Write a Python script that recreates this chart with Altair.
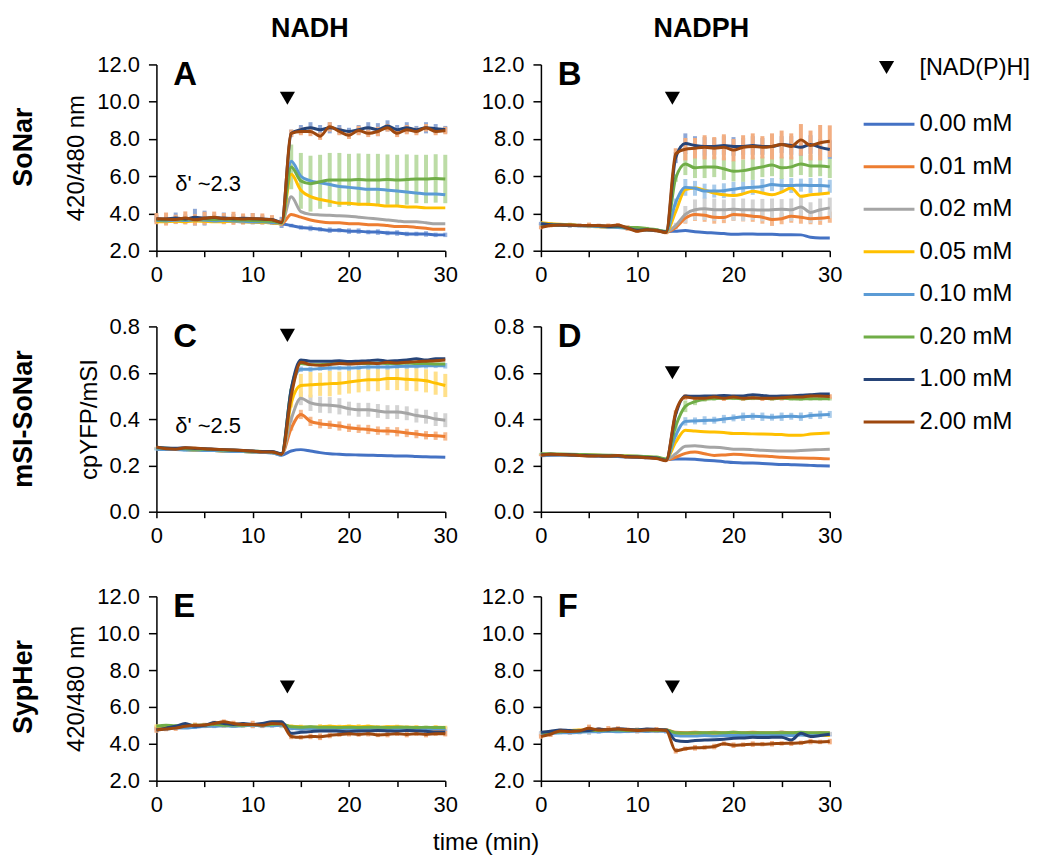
import altair as alt
import pandas as pd

FONT = "Liberation Sans"

# ---------------- data ----------------
T = list(range(31))  # minutes
SERIES = ["0.00 mM", "0.01 mM", "0.02 mM", "0.05 mM", "0.10 mM", "0.20 mM", "1.00 mM", "2.00 mM"]
LINE_COLORS = ["#4472C4", "#ED7D31", "#A5A5A5", "#FFC000", "#5B9BD5", "#70AD47", "#264478", "#9E480E"]
ERR_COLORS = ["#9DB5E0", "#F6B98E", "#D3D3D3", "#FFE08A", "#A9CBEA", "#BCDCA6", "#8FA8D6", "#F2AE82"]
X_TICKS = [0, 5, 10, 15, 20, 25, 30]
Y_TICKS_RATIO = [2, 4, 6, 8, 10, 12]
Y_TICKS_MSI = [0.0, 0.2, 0.4, 0.6, 0.8]

# Panel A: SoNar, NADH
A_VALS = {
    "0.00 mM": [3.65, 3.62, 3.64, 3.62, 3.66, 3.62, 3.6, 3.6, 3.58, 3.56, 3.55, 3.52, 3.5, 3.45,
                3.35, 3.25, 3.2, 3.15, 3.1, 3.1, 3.05, 3.05, 3.0, 3.0, 2.95, 2.95, 2.9, 2.9, 2.9, 2.85, 2.85],
    "0.01 mM": [3.6, 3.62, 3.66, 3.6, 3.62, 3.66, 3.62, 3.6, 3.62, 3.58, 3.58, 3.55, 3.52, 3.45,
                3.95, 3.8, 3.65, 3.55, 3.5, 3.5, 3.45, 3.45, 3.4, 3.4, 3.35, 3.3, 3.3, 3.25, 3.2, 3.15, 3.15],
    "0.02 mM": [3.62, 3.64, 3.6, 3.66, 3.64, 3.6, 3.64, 3.62, 3.6, 3.6, 3.58, 3.56, 3.55, 3.48,
                4.9, 4.1, 3.95, 3.92, 3.9, 3.88, 3.85, 3.8, 3.75, 3.7, 3.65, 3.6, 3.55, 3.55, 3.5, 3.45, 3.45],
    "0.05 mM": [3.55, 3.56, 3.58, 3.55, 3.6, 3.58, 3.55, 3.56, 3.58, 3.55, 3.54, 3.52, 3.5, 3.45,
                6.1, 5.25, 4.9, 4.75, 4.65, 4.55, 4.55, 4.5, 4.5, 4.45, 4.4, 4.4, 4.35, 4.35, 4.3, 4.3, 4.3],
    "0.10 mM": [3.62, 3.6, 3.64, 3.62, 3.66, 3.64, 3.6, 3.62, 3.6, 3.58, 3.56, 3.55, 3.52, 3.48,
                6.8, 6.0, 5.75, 5.65, 5.55, 5.45, 5.4, 5.35, 5.3, 5.3, 5.25, 5.2, 5.15, 5.1, 5.05, 5.05, 5.0],
    "0.20 mM": [3.66, 3.65, 3.7, 3.68, 3.72, 3.7, 3.68, 3.7, 3.66, 3.65, 3.62, 3.6, 3.58, 3.5,
                6.5, 5.75, 5.6, 5.7, 5.8, 5.8, 5.8, 5.82, 5.8, 5.8, 5.82, 5.8, 5.82, 5.85, 5.85, 5.88, 5.85],
    "1.00 mM": [3.72, 3.7, 3.75, 3.7, 3.8, 3.75, 3.78, 3.75, 3.72, 3.74, 3.72, 3.7, 3.68, 3.52,
                8.3, 8.5, 8.6, 8.5, 8.6, 8.5, 8.4, 8.5, 8.6, 8.5, 8.7, 8.5, 8.6, 8.5, 8.6, 8.55, 8.5],
    "2.00 mM": [3.72, 3.7, 3.68, 3.76, 3.66, 3.74, 3.8, 3.72, 3.74, 3.7, 3.72, 3.7, 3.66, 3.52,
                8.3, 8.4, 8.4, 8.15, 8.65, 8.4, 8.2, 8.45, 8.3, 8.4, 8.6, 8.3, 8.5, 8.4, 8.6, 8.4, 8.45],
}
A_ERR = {
    "0.00 mM": [0.1, 0.1, 0.12, 0.1, 0.15, 0.12, 0.1, 0.1, 0.1, 0.12, 0.1, 0.1, 0.1, 0.1,
                0.1, 0.12, 0.15, 0.12, 0.15, 0.12, 0.15, 0.15, 0.12, 0.15, 0.12, 0.15, 0.12, 0.12, 0.15, 0.12, 0.12],
    "0.20 mM": [0.1, 0.1, 0.12, 0.1, 0.1, 0.12, 0.1, 0.1, 0.12, 0.1, 0.1, 0.1, 0.1, 0.1,
                1.2, 1.5, 1.5, 1.45, 1.45, 1.45, 1.4, 1.4, 1.4, 1.4, 1.35, 1.35, 1.35, 1.3, 1.3, 1.3, 1.3],
    "1.00 mM": [0.2, 0.2, 0.3, 0.25, 0.45, 0.4, 0.2, 0.3, 0.25, 0.2, 0.3, 0.2, 0.2, 0.3,
                0.2, 0.25, 0.3, 0.25, 0.3, 0.25, 0.2, 0.25, 0.3, 0.35, 0.3, 0.25, 0.3, 0.2, 0.3, 0.25, 0.2],
    "2.00 mM": [0.3, 0.35, 0.25, 0.35, 0.3, 0.35, 0.3, 0.3, 0.35, 0.3, 0.3, 0.3, 0.25, 0.2,
                0.2, 0.2, 0.25, 0.2, 0.25, 0.2, 0.2, 0.25, 0.2, 0.25, 0.2, 0.2, 0.25, 0.2, 0.2, 0.2, 0.2],
}

# Panel B: SoNar, NADPH
B_VALS = {
    "0.00 mM": [3.45, 3.42, 3.4, 3.38, 3.36, 3.35, 3.33, 3.3, 3.28, 3.22, 3.15, 3.15, 3.1, 3.02,
                3.05, 3.08, 3.02, 2.98, 2.95, 2.92, 2.88, 2.9, 2.9, 2.88, 2.88, 2.86, 2.86, 2.85, 2.72, 2.68, 2.68],
    "0.01 mM": [3.42, 3.4, 3.38, 3.36, 3.35, 3.32, 3.3, 3.28, 3.28, 3.2, 3.12, 3.14, 3.08, 3.0,
                3.25, 3.75, 3.95, 3.9, 3.8, 3.78, 3.95, 3.92, 3.85, 3.8, 3.68, 3.72, 3.85, 3.8, 3.72, 3.74, 3.8],
    "0.02 mM": [3.4, 3.38, 3.36, 3.38, 3.35, 3.34, 3.3, 3.3, 3.3, 3.22, 3.14, 3.12, 3.1, 3.02,
                3.35, 3.95, 4.2, 4.25, 4.2, 4.2, 4.22, 4.2, 4.2, 4.18, 4.2, 4.22, 4.2, 4.35, 4.05, 4.2, 4.3],
    "0.05 mM": [3.5, 3.45, 3.42, 3.4, 3.36, 3.32, 3.28, 3.26, 3.26, 3.2, 3.15, 3.12, 3.08, 3.0,
                4.1, 5.28, 5.37, 5.25, 5.1, 5.0, 4.97, 5.05, 5.19, 5.1, 5.0, 5.15, 5.37, 4.92, 5.0, 5.05, 5.1],
    "0.10 mM": [3.44, 3.4, 3.4, 3.36, 3.34, 3.32, 3.3, 3.26, 3.25, 3.2, 3.14, 3.12, 3.1, 3.02,
                4.6, 5.4, 5.35, 5.2, 5.2, 5.22, 5.3, 5.37, 5.4, 5.45, 5.55, 5.5, 5.5, 5.52, 5.5, 5.5, 5.46],
    "0.20 mM": [3.42, 3.4, 3.38, 3.38, 3.36, 3.35, 3.34, 3.3, 3.3, 3.25, 3.25, 3.2, 3.12, 3.04,
                5.9, 6.66, 6.45, 6.5, 6.5, 6.4, 6.27, 6.3, 6.4, 6.5, 6.6, 6.45, 6.5, 6.66, 6.55, 6.55, 6.5],
    "1.00 mM": [3.45, 3.4, 3.38, 3.36, 3.36, 3.35, 3.34, 3.3, 3.32, 3.22, 3.1, 3.12, 3.08, 3.0,
                7.0, 7.75, 7.65, 7.6, 7.6, 7.65, 7.6, 7.6, 7.65, 7.6, 7.6, 7.7, 7.65, 7.55, 7.7, 7.55, 7.43],
    "2.00 mM": [3.25, 3.35, 3.38, 3.38, 3.36, 3.36, 3.35, 3.34, 3.38, 3.22, 3.05, 3.12, 3.08, 2.98,
                7.2, 7.45, 7.5, 7.55, 7.5, 7.55, 7.4, 7.55, 7.6, 7.55, 7.6, 7.7, 7.6, 7.95, 7.65, 7.8, 7.88],
}
B_ERR = {
    "0.01 mM": [0.05, 0.05, 0.06, 0.05, 0.05, 0.06, 0.05, 0.05, 0.06, 0.05, 0.05, 0.05, 0.05, 0.05,
                0.1, 0.3, 0.35, 0.35, 0.35, 0.3, 0.35, 0.35, 0.3, 0.35, 0.35, 0.3, 0.35, 0.35, 0.3, 0.35, 0.3],
    "0.02 mM": [0.05, 0.05, 0.05, 0.05, 0.06, 0.05, 0.05, 0.05, 0.05, 0.06, 0.05, 0.05, 0.05, 0.05,
                0.15, 0.45, 0.55, 0.6, 0.6, 0.55, 0.6, 0.6, 0.55, 0.6, 0.6, 0.55, 0.6, 0.6, 0.55, 0.6, 0.55],
    "0.10 mM": [0.08, 0.1, 0.08, 0.1, 0.08, 0.1, 0.08, 0.1, 0.08, 0.1, 0.08, 0.1, 0.08, 0.08,
                0.2, 0.45, 0.4, 0.4, 0.35, 0.4, 0.4, 0.35, 0.4, 0.4, 0.35, 0.4, 0.4, 0.35, 0.4, 0.4, 0.35],
    "0.20 mM": [0.05, 0.08, 0.05, 0.08, 0.05, 0.08, 0.05, 0.08, 0.05, 0.08, 0.05, 0.08, 0.05, 0.05,
                0.2, 0.6, 0.55, 0.6, 0.55, 0.6, 0.55, 0.6, 0.6, 0.55, 0.6, 0.6, 0.55, 0.6, 0.6, 0.55, 0.6],
    "1.00 mM": [0.1, 0.12, 0.1, 0.12, 0.1, 0.12, 0.1, 0.1, 0.12, 0.1, 0.12, 0.1, 0.1, 0.1,
                0.3, 0.55, 0.5, 0.5, 0.45, 0.5, 0.5, 0.45, 0.5, 0.45, 0.5, 0.45, 0.5, 0.45, 0.5, 0.45, 0.5],
    "2.00 mM": [0.1, 0.1, 0.1, 0.12, 0.1, 0.15, 0.1, 0.12, 0.1, 0.15, 0.1, 0.1, 0.1, 0.1,
                0.3, 0.6, 0.55, 0.65, 0.6, 0.7, 0.6, 0.65, 0.7, 0.6, 0.7, 0.75, 0.7, 0.85, 0.8, 0.95, 0.85],
}

# Panel C: mSI-SoNar, NADH
C_VALS = {
    "0.00 mM": [0.27, 0.268, 0.27, 0.268, 0.266, 0.265, 0.264, 0.262, 0.262, 0.26, 0.258, 0.256, 0.255, 0.245,
                0.262, 0.268, 0.262, 0.255, 0.25, 0.248, 0.246, 0.245, 0.244, 0.243, 0.242, 0.24, 0.24, 0.238, 0.237, 0.236, 0.235],
    "0.01 mM": [0.272, 0.27, 0.27, 0.27, 0.268, 0.266, 0.265, 0.264, 0.262, 0.26, 0.26, 0.258, 0.256, 0.248,
                0.36, 0.42, 0.39, 0.38, 0.375, 0.37, 0.362, 0.358, 0.355, 0.35, 0.348, 0.345, 0.34, 0.335, 0.33, 0.328, 0.325],
    "0.02 mM": [0.275, 0.272, 0.272, 0.27, 0.27, 0.268, 0.266, 0.265, 0.264, 0.262, 0.26, 0.258, 0.256, 0.25,
                0.4, 0.49, 0.47, 0.462, 0.46, 0.455, 0.445, 0.44, 0.44, 0.435, 0.43, 0.43, 0.425, 0.415, 0.41, 0.4, 0.395],
    "0.05 mM": [0.272, 0.27, 0.268, 0.268, 0.265, 0.266, 0.264, 0.262, 0.262, 0.26, 0.258, 0.257, 0.255, 0.248,
                0.47, 0.545, 0.548, 0.55, 0.553, 0.555, 0.56, 0.565, 0.57, 0.57, 0.575, 0.575, 0.572, 0.57, 0.565, 0.555, 0.545],
    "0.10 mM": [0.27, 0.268, 0.268, 0.266, 0.266, 0.264, 0.264, 0.262, 0.26, 0.26, 0.258, 0.256, 0.254, 0.244,
                0.52, 0.615, 0.615, 0.618, 0.62, 0.62, 0.62, 0.622, 0.625, 0.625, 0.625, 0.627, 0.628, 0.628, 0.63, 0.63, 0.63],
    "0.20 mM": [0.276, 0.274, 0.273, 0.272, 0.27, 0.27, 0.268, 0.266, 0.265, 0.263, 0.261, 0.26, 0.258, 0.25,
                0.53, 0.64, 0.635, 0.635, 0.638, 0.64, 0.64, 0.64, 0.64, 0.642, 0.64, 0.64, 0.642, 0.64, 0.64, 0.638, 0.638],
    "1.00 mM": [0.278, 0.275, 0.274, 0.276, 0.273, 0.272, 0.27, 0.268, 0.266, 0.264, 0.262, 0.26, 0.26, 0.25,
                0.53, 0.655, 0.65, 0.65, 0.65, 0.652, 0.648, 0.65, 0.652, 0.655, 0.65, 0.652, 0.655, 0.66, 0.655, 0.66, 0.66],
    "2.00 mM": [0.28, 0.272, 0.27, 0.276, 0.275, 0.272, 0.27, 0.268, 0.266, 0.264, 0.262, 0.258, 0.258, 0.247,
                0.5, 0.645, 0.635, 0.632, 0.635, 0.64, 0.638, 0.64, 0.642, 0.64, 0.645, 0.642, 0.645, 0.648, 0.65, 0.652, 0.655],
}
C_ERR = {
    "0.01 mM": [0.005, 0.005, 0.005, 0.005, 0.005, 0.005, 0.005, 0.005, 0.005, 0.005, 0.005, 0.005, 0.005, 0.005,
                0.01, 0.02, 0.02, 0.02, 0.018, 0.02, 0.018, 0.018, 0.02, 0.018, 0.018, 0.02, 0.018, 0.018, 0.018, 0.018, 0.018],
    "0.02 mM": [0.005, 0.005, 0.005, 0.005, 0.005, 0.005, 0.005, 0.005, 0.005, 0.005, 0.005, 0.005, 0.005, 0.005,
                0.015, 0.03, 0.035, 0.035, 0.035, 0.035, 0.03, 0.03, 0.03, 0.03, 0.03, 0.03, 0.03, 0.03, 0.03, 0.03, 0.03],
    "0.05 mM": [0.005, 0.005, 0.006, 0.005, 0.005, 0.006, 0.005, 0.005, 0.006, 0.005, 0.005, 0.005, 0.005, 0.005,
                0.02, 0.05, 0.055, 0.05, 0.055, 0.05, 0.05, 0.05, 0.05, 0.05, 0.05, 0.05, 0.05, 0.05, 0.05, 0.05, 0.05],
    "0.10 mM": [0.006, 0.006, 0.006, 0.006, 0.006, 0.006, 0.006, 0.006, 0.006, 0.006, 0.006, 0.006, 0.006, 0.006,
                0.01, 0.012, 0.012, 0.01, 0.012, 0.01, 0.012, 0.01, 0.012, 0.01, 0.012, 0.01, 0.012, 0.01, 0.012, 0.01, 0.012],
}

# Panel D: mSI-SoNar, NADPH
D_VALS = {
    "0.00 mM": [0.242, 0.244, 0.245, 0.244, 0.243, 0.242, 0.24, 0.24, 0.238, 0.236, 0.235, 0.233, 0.232, 0.225,
                0.228, 0.228, 0.226, 0.222, 0.22, 0.216, 0.212, 0.21, 0.21, 0.208, 0.206, 0.204, 0.203, 0.202, 0.2, 0.198, 0.197],
    "0.01 mM": [0.245, 0.246, 0.246, 0.245, 0.244, 0.243, 0.242, 0.241, 0.24, 0.238, 0.236, 0.234, 0.232, 0.224,
                0.235, 0.252, 0.258, 0.25, 0.243, 0.245, 0.248, 0.246, 0.243, 0.24, 0.238, 0.235, 0.233, 0.232, 0.231, 0.23, 0.228],
    "0.02 mM": [0.246, 0.247, 0.246, 0.246, 0.245, 0.244, 0.243, 0.242, 0.241, 0.239, 0.237, 0.235, 0.233, 0.225,
                0.25, 0.283, 0.285, 0.28, 0.278, 0.275, 0.27, 0.27, 0.268, 0.265, 0.263, 0.262, 0.262, 0.264, 0.266, 0.268, 0.27],
    "0.05 mM": [0.247, 0.248, 0.247, 0.246, 0.245, 0.245, 0.244, 0.242, 0.242, 0.24, 0.238, 0.236, 0.234, 0.226,
                0.3, 0.352, 0.348, 0.345, 0.344, 0.342, 0.338, 0.338, 0.336, 0.335, 0.334, 0.333, 0.33, 0.33, 0.335, 0.338, 0.34],
    "0.10 mM": [0.244, 0.245, 0.245, 0.244, 0.244, 0.243, 0.242, 0.241, 0.24, 0.238, 0.236, 0.234, 0.232, 0.224,
                0.33, 0.39, 0.392, 0.394, 0.395, 0.4, 0.405, 0.41, 0.412, 0.41, 0.408, 0.41, 0.412, 0.41, 0.415, 0.418, 0.42],
    "0.20 mM": [0.25, 0.25, 0.249, 0.248, 0.247, 0.246, 0.245, 0.244, 0.243, 0.241, 0.24, 0.238, 0.236, 0.227,
                0.37, 0.455, 0.475, 0.485, 0.488, 0.49, 0.49, 0.488, 0.49, 0.49, 0.488, 0.49, 0.488, 0.487, 0.488, 0.488, 0.488],
    "1.00 mM": [0.246, 0.248, 0.247, 0.246, 0.243, 0.242, 0.241, 0.24, 0.24, 0.238, 0.236, 0.234, 0.232, 0.222,
                0.42, 0.5, 0.498, 0.5, 0.5, 0.502, 0.5, 0.5, 0.505, 0.502, 0.498, 0.5, 0.5, 0.503, 0.505, 0.508, 0.508],
    "2.00 mM": [0.244, 0.248, 0.247, 0.245, 0.243, 0.24, 0.241, 0.24, 0.243, 0.236, 0.236, 0.233, 0.23, 0.22,
                0.43, 0.495, 0.49, 0.49, 0.495, 0.49, 0.495, 0.49, 0.492, 0.49, 0.49, 0.492, 0.495, 0.495, 0.5, 0.5, 0.497],
}
D_ERR = {
    "0.10 mM": [0.004, 0.004, 0.004, 0.004, 0.004, 0.004, 0.004, 0.004, 0.004, 0.004, 0.004, 0.004, 0.004, 0.004,
                0.01, 0.018, 0.015, 0.018, 0.015, 0.018, 0.015, 0.018, 0.015, 0.018, 0.015, 0.018, 0.015, 0.018, 0.015, 0.018, 0.015],
    "0.20 mM": [0.004, 0.004, 0.004, 0.004, 0.004, 0.004, 0.004, 0.004, 0.004, 0.004, 0.004, 0.004, 0.004, 0.004,
                0.02, 0.025, 0.015, 0.01, 0.008, 0.008, 0.008, 0.008, 0.008, 0.008, 0.008, 0.008, 0.008, 0.008, 0.008, 0.008, 0.008],
    "2.00 mM": [0.004, 0.004, 0.004, 0.004, 0.004, 0.004, 0.004, 0.004, 0.004, 0.004, 0.004, 0.004, 0.004, 0.004,
                0.008, 0.012, 0.01, 0.012, 0.01, 0.012, 0.01, 0.012, 0.01, 0.012, 0.01, 0.012, 0.01, 0.012, 0.01, 0.012, 0.01],
}

# Panel E: SypHer, NADH
E_VALS = {
    "0.00 mM": [4.85, 4.88, 4.9, 4.95, 4.92, 4.95, 5.0, 5.0, 4.98, 5.0, 5.0, 4.98, 5.0, 5.05,
                4.85, 4.82, 4.85, 4.85, 4.82, 4.8, 4.8, 4.82, 4.8, 4.82, 4.85, 4.85, 4.82, 4.8, 4.8, 4.78, 4.8],
    "0.01 mM": [4.8, 4.85, 4.9, 4.9, 4.95, 4.95, 5.0, 4.98, 5.0, 5.0, 5.02, 5.0, 5.0, 5.05,
                4.9, 4.85, 4.85, 4.82, 4.85, 4.8, 4.8, 4.8, 4.82, 4.8, 4.8, 4.78, 4.8, 4.8, 4.75, 4.78, 4.75],
    "0.02 mM": [4.9, 4.9, 4.95, 4.92, 4.95, 5.0, 4.98, 5.0, 5.0, 4.98, 5.0, 5.0, 5.02, 5.0,
                4.9, 4.88, 4.9, 4.88, 4.9, 4.88, 4.9, 4.88, 4.9, 4.88, 4.9, 4.9, 4.88, 4.86, 4.88, 4.86, 4.85],
    "0.05 mM": [4.95, 4.95, 4.9, 4.95, 5.0, 4.98, 5.0, 5.02, 4.98, 5.0, 5.0, 5.02, 5.0, 5.0,
                4.95, 4.92, 4.9, 4.92, 4.95, 4.92, 4.95, 4.92, 4.95, 4.9, 4.92, 4.92, 4.9, 4.9, 4.88, 4.9, 4.88],
    "0.10 mM": [4.75, 4.8, 4.85, 4.85, 4.9, 4.95, 4.95, 4.98, 4.95, 4.98, 5.0, 4.98, 4.98, 5.0,
                4.85, 4.8, 4.82, 4.8, 4.82, 4.8, 4.82, 4.8, 4.82, 4.8, 4.8, 4.82, 4.8, 4.8, 4.78, 4.8, 4.8],
    "0.20 mM": [4.95, 5.0, 4.98, 5.0, 5.0, 5.02, 5.05, 5.0, 5.02, 5.0, 5.05, 5.02, 5.05, 5.08,
                4.92, 4.9, 4.92, 4.9, 4.9, 4.88, 4.9, 4.88, 4.9, 4.9, 4.88, 4.9, 4.9, 4.88, 4.9, 4.88, 4.88],
    "1.00 mM": [4.75, 4.85, 4.95, 5.1, 4.95, 5.0, 5.15, 5.1, 5.05, 5.1, 5.05, 5.1, 5.2, 5.2,
                4.57, 4.62, 4.66, 4.7, 4.7, 4.68, 4.66, 4.7, 4.7, 4.72, 4.7, 4.68, 4.72, 4.7, 4.68, 4.62, 4.62],
    "2.00 mM": [4.75, 4.8, 4.85, 4.95, 5.0, 5.02, 5.1, 5.2, 5.1, 5.05, 5.05, 5.0, 5.1, 5.08,
                4.4, 4.35, 4.4, 4.38, 4.45, 4.5, 4.55, 4.5, 4.55, 4.48, 4.5, 4.55, 4.5, 4.55, 4.5, 4.55, 4.55],
}
E_ERR = {
    "0.00 mM": [0.12, 0.15, 0.1, 0.15, 0.12, 0.1, 0.15, 0.12, 0.1, 0.12, 0.15, 0.1, 0.12, 0.2,
                0.12, 0.1, 0.12, 0.1, 0.12, 0.1, 0.12, 0.1, 0.12, 0.1, 0.12, 0.1, 0.12, 0.1, 0.12, 0.1, 0.12],
    "0.05 mM": [0.1, 0.12, 0.1, 0.12, 0.1, 0.12, 0.1, 0.12, 0.1, 0.12, 0.1, 0.12, 0.1, 0.12,
                0.1, 0.12, 0.1, 0.15, 0.1, 0.12, 0.1, 0.15, 0.1, 0.12, 0.1, 0.12, 0.1, 0.12, 0.1, 0.12, 0.1],
    "2.00 mM": [0.15, 0.12, 0.15, 0.12, 0.15, 0.12, 0.15, 0.12, 0.15, 0.12, 0.2, 0.15, 0.12, 0.15,
                0.15, 0.12, 0.15, 0.18, 0.15, 0.12, 0.15, 0.12, 0.15, 0.12, 0.15, 0.12, 0.15, 0.12, 0.15, 0.12, 0.15],
}

# Panel F: SypHer, NADPH
F_VALS = {
    "0.00 mM": [4.55, 4.6, 4.62, 4.65, 4.68, 4.7, 4.7, 4.72, 4.72, 4.7, 4.72, 4.7, 4.72, 4.7,
                4.5, 4.48, 4.5, 4.5, 4.52, 4.5, 4.5, 4.52, 4.5, 4.5, 4.52, 4.5, 4.5, 4.52, 4.5, 4.5, 4.52],
    "0.01 mM": [4.6, 4.62, 4.65, 4.68, 4.7, 4.72, 4.72, 4.75, 4.72, 4.75, 4.72, 4.75, 4.72, 4.75,
                4.62, 4.6, 4.62, 4.6, 4.62, 4.6, 4.62, 4.6, 4.62, 4.6, 4.6, 4.62, 4.6, 4.6, 4.58, 4.6, 4.58],
    "0.02 mM": [4.55, 4.6, 4.62, 4.62, 4.65, 4.68, 4.7, 4.7, 4.72, 4.7, 4.7, 4.72, 4.7, 4.72,
                4.58, 4.55, 4.55, 4.55, 4.58, 4.55, 4.55, 4.55, 4.55, 4.55, 4.55, 4.58, 4.55, 4.55, 4.55, 4.55, 4.55],
    "0.05 mM": [4.6, 4.65, 4.7, 4.72, 4.75, 4.72, 4.75, 4.72, 4.75, 4.72, 4.75, 4.72, 4.72, 4.72,
                4.55, 4.5, 4.5, 4.52, 4.5, 4.5, 4.52, 4.5, 4.5, 4.48, 4.5, 4.5, 4.48, 4.5, 4.45, 4.45, 4.45],
    "0.10 mM": [4.5, 4.55, 4.6, 4.6, 4.62, 4.65, 4.65, 4.68, 4.65, 4.68, 4.7, 4.68, 4.7, 4.68,
                4.45, 4.42, 4.42, 4.45, 4.42, 4.45, 4.45, 4.45, 4.48, 4.45, 4.45, 4.48, 4.45, 4.48, 4.45, 4.48, 4.5],
    "0.20 mM": [4.6, 4.62, 4.65, 4.68, 4.7, 4.72, 4.72, 4.75, 4.75, 4.72, 4.75, 4.75, 4.72, 4.75,
                4.6, 4.58, 4.6, 4.6, 4.6, 4.6, 4.62, 4.6, 4.6, 4.6, 4.6, 4.6, 4.6, 4.62, 4.6, 4.6, 4.6],
    "1.00 mM": [4.62, 4.68, 4.75, 4.72, 4.7, 4.72, 4.8, 4.75, 4.82, 4.78, 4.75, 4.8, 4.78, 4.75,
                4.18, 4.12, 4.18, 4.2, 4.22, 4.25, 4.3, 4.32, 4.35, 4.34, 4.35, 4.36, 4.21, 4.57, 4.39, 4.45, 4.52],
    "2.00 mM": [4.4, 4.52, 4.7, 4.66, 4.7, 4.84, 4.75, 4.78, 4.8, 4.76, 4.72, 4.75, 4.76, 4.72,
                3.62, 3.73, 3.78, 3.8, 3.85, 4.0, 3.92, 3.95, 3.98, 3.98, 4.0, 4.02, 4.03, 4.05, 4.12, 4.1, 4.12],
}
F_ERR = {
    "0.00 mM": [0.12, 0.15, 0.1, 0.15, 0.12, 0.1, 0.15, 0.12, 0.1, 0.12, 0.15, 0.1, 0.12, 0.15,
                0.12, 0.1, 0.12, 0.1, 0.12, 0.1, 0.12, 0.1, 0.12, 0.1, 0.12, 0.1, 0.12, 0.1, 0.12, 0.1, 0.12],
    "0.02 mM": [0.1, 0.12, 0.1, 0.12, 0.15, 0.2, 0.12, 0.1, 0.12, 0.1, 0.12, 0.1, 0.12, 0.1,
                0.1, 0.12, 0.1, 0.12, 0.1, 0.12, 0.1, 0.12, 0.1, 0.12, 0.1, 0.15, 0.1, 0.12, 0.1, 0.12, 0.1],
    "2.00 mM": [0.12, 0.15, 0.12, 0.15, 0.12, 0.2, 0.15, 0.18, 0.15, 0.12, 0.15, 0.12, 0.15, 0.12,
                0.15, 0.12, 0.15, 0.12, 0.15, 0.12, 0.15, 0.12, 0.15, 0.12, 0.15, 0.12, 0.15, 0.12, 0.15, 0.12, 0.15],
}

DUMMY = pd.DataFrame({"k": [0]})


def text_layer(txt, x, y, size, bold=False, angle=0, align="center", baseline="middle"):
    kw = dict(text=txt, font=FONT, fontSize=size, color="black", align=align, baseline=baseline)
    if bold:
        kw["fontWeight"] = "bold"
    if angle:
        kw["angle"] = angle
    return alt.Chart(DUMMY).mark_text(**kw).encode(x=alt.value(x), y=alt.value(y))


def triangle_layer(x, y):
    return alt.Chart(DUMMY).mark_point(shape="triangle-down", filled=True, size=230,
                                       color="black", opacity=1).encode(x=alt.value(x), y=alt.value(y))


def panel(vals, errs, ydom, yticks, ytitle, letter, tri, w, h, extras, pad=0):
    rows = []
    for s in SERIES:
        for t, v in zip(T, vals[s]):
            rows.append({"s": s, "t": t, "v": v})
    line_df = pd.DataFrame(rows)
    erows = []
    for s in SERIES:
        if s in errs:
            for t, v, e in zip(T, vals[s], errs[s]):
                erows.append({"s": s, "t": t, "lo": v - e, "hi": v + e})
    err_df = pd.DataFrame(erows)

    xaxis = alt.Axis(values=X_TICKS, labelExpr="datum.value % 10 === 0 ? datum.label : ''",
                     title=None, tickSize=6, labelPadding=8, labelFlush=False,
                     labelOverlap=False, grid=False)
    yargs = dict(values=yticks, format=".1f", tickSize=8, labelPadding=9, labelFlush=False,
                 labelOverlap=False, grid=False)
    if ytitle:
        yargs["title"] = ytitle
        yargs["titlePadding"] = 8
    else:
        yargs["title"] = None
    yaxis = alt.Axis(**yargs)
    xs = alt.Scale(domain=[0, 30], nice=False, zero=False)
    ys = alt.Scale(domain=ydom, nice=False, zero=False, range=[h + pad, pad])

    err = alt.Chart(err_df).mark_rule(strokeWidth=4).encode(
        x=alt.X("t:Q", scale=xs, axis=xaxis),
        y=alt.Y("lo:Q", scale=ys, axis=yaxis),
        y2="hi:Q",
        stroke=alt.Stroke("s:N", scale=alt.Scale(domain=SERIES, range=ERR_COLORS), legend=None),
    )
    lines = alt.Chart(line_df).mark_line(strokeWidth=3, interpolate="monotone").encode(
        x=alt.X("t:Q", scale=xs, axis=xaxis),
        y=alt.Y("v:Q", scale=ys, axis=yaxis),
        color=alt.Color("s:N", scale=alt.Scale(domain=SERIES, range=LINE_COLORS), legend=None),
    )
    layers = [err, lines,
              text_layer(letter, 17, 21 + pad, 33, bold=True, align="left", baseline="alphabetic"),
              triangle_layer(tri[0], tri[1] + pad)]
    layers += extras
    return alt.layer(*layers).properties(width=w, height=h + pad)


W = 290
pA = panel(A_VALS, A_ERR, [2, 12], Y_TICKS_RATIO, "420/480 nm", "A", (131.5, 34), W, 187, [
    text_layer("δ' ~2.3", 19, 127, 22, align="left", baseline="alphabetic"),
    text_layer("NADH", 154, -36, 27, bold=True),
    text_layer("SoNar", -133, 83, 27, bold=True, angle=270),
])
pB = panel(B_VALS, B_ERR, [2, 12], Y_TICKS_RATIO, None, "B", (132, 34), W, 187, [
    text_layer("NADPH", 161, -36, 27, bold=True),
])
pC = panel(C_VALS, C_ERR, [0, 0.8], Y_TICKS_MSI, "cpYFP/mSI", "C", (131.5, 9), W, 186, [
    text_layer("δ' ~2.5", 19, 107, 22, align="left", baseline="alphabetic"),
    text_layer("mSI-SoNar", -133, 93, 27, bold=True, angle=270),
])
pD = panel(D_VALS, D_ERR, [0, 0.8], Y_TICKS_MSI, None, "D", (132, 46.5), W, 186, [])
# row 3 views start 9px higher (blank band on top) so the row gap matches the reference
pE = panel(E_VALS, E_ERR, [2, 12], Y_TICKS_RATIO, "420/480 nm", "E", (131.5, 91), W, 185, [
    text_layer("SypHer", -133, 100, 27, bold=True, angle=270),
    text_layer("time (min)", 331, 257, 24),
], pad=9)
pF = panel(F_VALS, F_ERR, [2, 12], Y_TICKS_RATIO, None, "F", (132, 91), W, 185, [], pad=9)

# legend column (view starts 96px right of panel B; content shifted left onto its position)
LX = -62
leg_df = pd.DataFrame({"s": SERIES})
ly = alt.Y("s:N", scale=alt.Scale(type="point", domain=SERIES, range=[60, 359], padding=0), axis=None)
leg_rules = alt.Chart(leg_df).mark_rule(strokeWidth=3).encode(
    x=alt.value(LX), x2=alt.value(LX + 51), y=ly,
    color=alt.Color("s:N", scale=alt.Scale(domain=SERIES, range=LINE_COLORS), legend=None))
leg_text = alt.Chart(leg_df).mark_text(align="left", baseline="middle", font=FONT, fontSize=24,
                                        color="black").encode(x=alt.value(LX + 56), y=ly, text="s:N")
legend = alt.layer(
    leg_rules, leg_text,
    triangle_layer(LX + 23, 3),
    text_layer("[NAD(P)H]", LX + 56, 4, 23.5, align="left"),
).properties(width=10, height=187)

filler = alt.Chart(DUMMY).mark_text(text="").encode(x=alt.value(0), y=alt.value(0)).properties(width=10, height=10)

chart = alt.concat(
    pA, pB, legend,
    pC, pD, filler,
    pE, pF, filler,
    columns=3, spacing={"row": 76, "column": 96}, bounds="flush",
).configure_view(
    strokeWidth=0
).configure_axis(
    domainColor="black", tickColor="black", labelColor="black", titleColor="black",
    domainWidth=1.5, tickWidth=1.5, labelFont=FONT, titleFont=FONT,
    labelFontSize=22, titleFontSize=24, titleFontWeight="normal",
).properties(background="white", padding={"left": 2, "top": 5, "right": 0, "bottom": 0})

chart.save("out.html", embed_options={"renderer": "svg", "actions": False})
